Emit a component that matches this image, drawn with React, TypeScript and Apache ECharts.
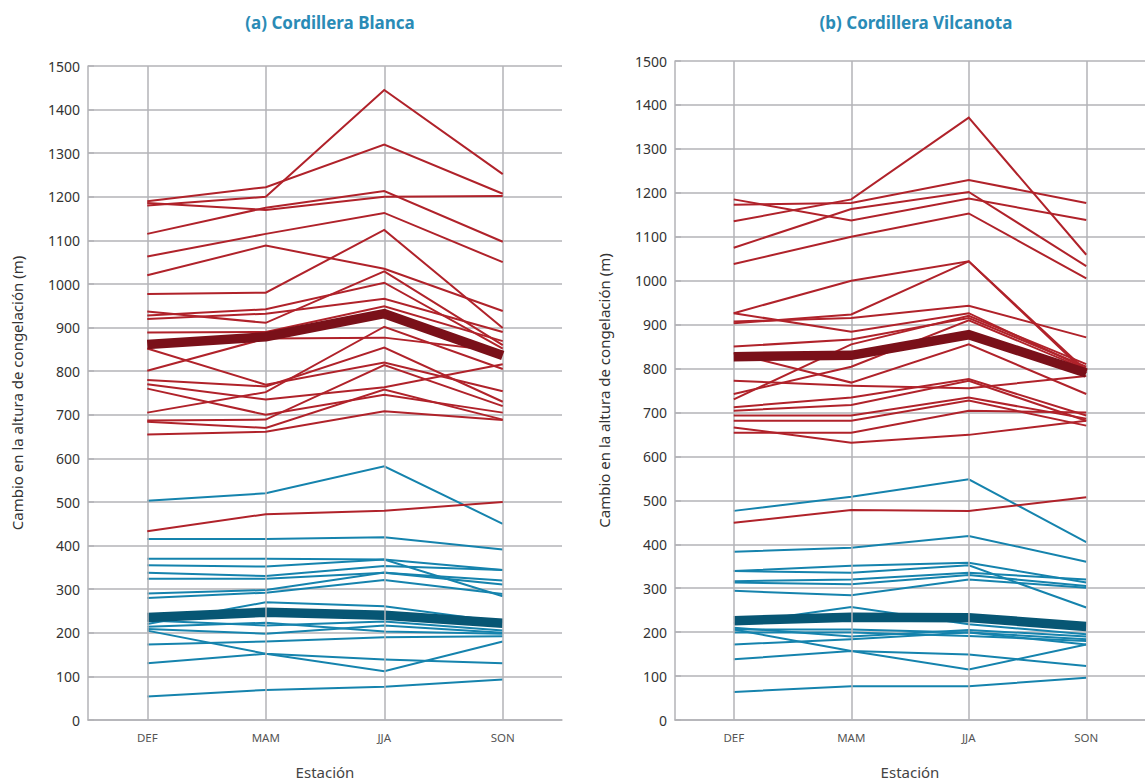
import React, { useEffect, useRef } from "react";
import * as echarts from "echarts";

const seasons = ["DEF", "MAM", "JJA", "SON"];
const titleA = "(a) Cordillera Blanca";
const titleB = "(b) Cordillera Vilcanota";
const yName = "Cambio en la altura de congelación (m)";
const xName = "Estación";

// (a) Cordillera Blanca – warm (red) members
const blancaRed: number[][] = [
  [1180, 1200, 1445, 1252],
  [1190, 1222, 1320, 1207],
  [1186, 1170, 1200, 1202],
  [1115, 1175, 1213, 1097],
  [1063, 1115, 1163, 1050],
  [1020, 1088, 1035, 938],
  [977, 980, 1124, 899],
  [937, 911, 1029, 860],
  [928, 942, 1003, 852],
  [920, 932, 966, 890],
  [889, 890, 949, 869],
  [852, 769, 820, 754],
  [801, 875, 877, 845],
  [780, 765, 854, 730],
  [770, 735, 763, 816],
  [760, 700, 746, 705],
  [705, 752, 902, 805],
  [687, 689, 814, 720],
  [684, 670, 758, 689],
  [655, 661, 708, 688],
  [433, 472, 480, 500],
];
const blancaRedMean = [861, 879, 932, 836];

// (a) Cordillera Blanca – blue members
const blancaBlue: number[][] = [
  [503, 520, 582, 450],
  [415, 415, 419, 391],
  [370, 370, 368, 344],
  [355, 352, 368, 284],
  [338, 330, 353, 344],
  [324, 324, 338, 320],
  [290, 298, 338, 311],
  [280, 292, 321, 289],
  [220, 270, 261, 225],
  [228, 217, 226, 205],
  [214, 223, 203, 198],
  [209, 198, 217, 200],
  [205, 152, 139, 130],
  [173, 180, 190, 192],
  [130, 152, 112, 180],
  [54, 69, 76, 93],
];
const blancaBlueMean = [235, 247, 240, 222];

// (b) Cordillera Vilcanota – warm (red) members
const vilcanotaRed: number[][] = [
  [1135, 1185, 1371, 1059],
  [1173, 1177, 1229, 1177],
  [1185, 1137, 1187, 1138],
  [1075, 1163, 1202, 1033],
  [1038, 1100, 1153, 1005],
  [926, 1000, 1044, 795],
  [926, 884, 926, 800],
  [907, 915, 943, 871],
  [903, 923, 1044, 790],
  [850, 866, 915, 804],
  [835, 768, 855, 742],
  [772, 761, 755, 783],
  [742, 804, 910, 798],
  [730, 855, 920, 810],
  [712, 734, 776, 693],
  [704, 717, 772, 681],
  [693, 693, 734, 686],
  [681, 681, 727, 670],
  [654, 654, 704, 700],
  [666, 631, 649, 681],
  [449, 478, 476, 507],
];
const vilcanotaRedMean = [827, 830, 877, 790];

// (b) Cordillera Vilcanota – blue members
const vilcanotaBlue: number[][] = [
  [476, 508, 548, 405],
  [383, 392, 419, 360],
  [339, 351, 358, 313],
  [339, 335, 352, 256],
  [316, 320, 335, 320],
  [313, 309, 330, 305],
  [294, 284, 320, 301],
  [220, 257, 218, 195],
  [206, 206, 199, 184],
  [199, 199, 191, 180],
  [210, 190, 205, 190],
  [172, 184, 199, 172],
  [206, 157, 149, 123],
  [138, 157, 115, 172],
  [64, 77, 77, 96],
];
const vilcanotaBlueMean = [226, 234, 233, 213];

const RED = "#b0222a";
const RED_MEAN = "#7a1019";
const BLUE = "#1583ad";
const BLUE_MEAN = "#075674";
const GRID = "#b3b3b7";
const FONT = "'Noto Sans', sans-serif";

function lineSeries(data: number[], idx: number, color: string, width: number, z: number) {
  return {
    type: "line",
    xAxisIndex: idx,
    yAxisIndex: idx,
    data,
    symbol: "none",
    silent: true,
    z,
    lineStyle: { color, width, cap: "butt", join: "miter" },
  };
}

function panelSeries(idx: number, red: number[][], redMean: number[], blue: number[][], blueMean: number[]) {
  const s: any[] = [];
  s.push({
    type: "line",
    xAxisIndex: idx,
    yAxisIndex: idx,
    data: [],
    silent: true,
    z: 1,
    markLine: {
      silent: true,
      symbol: "none",
      label: { show: false },
      lineStyle: { color: GRID, width: 1.5, type: "solid" },
      data: seasons.map((c) => ({ xAxis: c })),
    },
  });
  blue.forEach((d) => s.push(lineSeries(d, idx, BLUE, 2, 3)));
  s.push(lineSeries(blueMean, idx, BLUE_MEAN, 9.5, 4));
  red.forEach((d) => s.push(lineSeries(d, idx, RED, 2, 5)));
  s.push(lineSeries(redMean, idx, RED_MEAN, 9.5, 6));
  return s;
}

function xAxisCfg(idx: number) {
  return {
    type: "category",
    gridIndex: idx,
    data: seasons,
    boundaryGap: true,
    name: xName,
    nameLocation: "middle",
    nameGap: 44,
    nameTextStyle: { fontSize: 15, color: "#444", fontFamily: FONT },
    axisLine: { show: true, lineStyle: { color: GRID, width: 1.5 } },
    axisTick: { show: false },
    axisLabel: { fontSize: 11.5, color: "#555", margin: 11, fontFamily: FONT },
    splitLine: { show: false },
  };
}

function yAxisCfg(idx: number) {
  return {
    type: "value",
    gridIndex: idx,
    min: 0,
    max: 1500,
    interval: 100,
    name: yName,
    nameLocation: "middle",
    nameGap: 64,
    nameTextStyle: { fontSize: 15, color: "#333", fontFamily: FONT },
    axisLine: { show: true, lineStyle: { color: GRID, width: 1.5 } },
    axisTick: { show: true, inside: true, length: 6, lineStyle: { color: GRID, width: 1.5 } },
    axisLabel: {
      fontSize: 14,
      color: "#333",
      margin: 8,
      fontFamily: FONT,
      formatter: (v: number) => String(v),
    },
    splitLine: { show: true, lineStyle: { color: GRID, width: 1.5 } },
  };
}

export default function App() {
  const ref = useRef<HTMLDivElement>(null);
  useEffect(() => {
    document.body.style.margin = "0";
    if (!ref.current) return;
    const chart = echarts.init(ref.current, null, { renderer: "svg" });
    chart.setOption({
      animation: false,
      backgroundColor: "#ffffff",
      title: [
        {
          text: titleA,
          left: 325,
          top: 9,
          textAlign: "center",
          textStyle: { fontSize: 17, fontWeight: "bold", color: "#2a8bb6", fontFamily: FONT },
        },
        {
          text: titleB,
          left: 911,
          top: 9,
          textAlign: "center",
          textStyle: { fontSize: 17, fontWeight: "bold", color: "#2a8bb6", fontFamily: FONT },
        },
      ],
      grid: [
        { left: 88, top: 66, width: 474, height: 660 },
        { left: 675, top: 61, width: 472, height: 660 },
      ],
      xAxis: [xAxisCfg(0), xAxisCfg(1)],
      yAxis: [yAxisCfg(0), yAxisCfg(1)],
      series: [
        ...panelSeries(0, blancaRed, blancaRedMean, blancaBlue, blancaBlueMean),
        ...panelSeries(1, vilcanotaRed, vilcanotaRedMean, vilcanotaBlue, vilcanotaBlueMean),
      ],
    });
    return () => chart.dispose();
  }, []);
  return <div ref={ref} style={{ width: 1145, height: 784 }} />;
}
